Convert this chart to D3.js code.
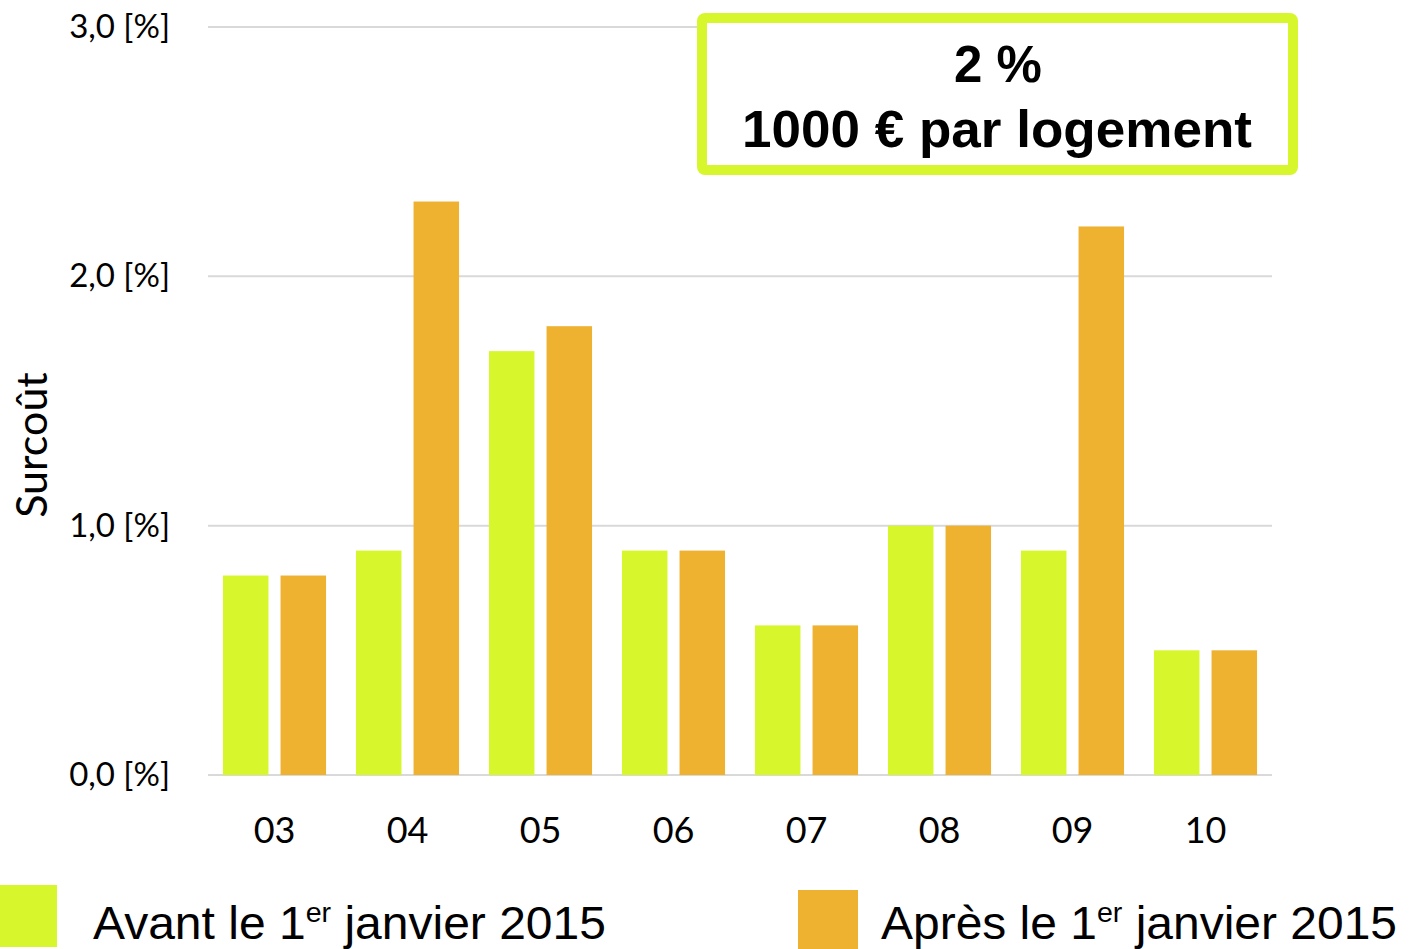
<!DOCTYPE html>
<html>
<head>
<meta charset="utf-8">
<script src="https://cdn.jsdelivr.net/npm/d3@7"></script>
<style>
  body { margin: 0; background: #fff; }
  svg { display: block; }
</style>
</head>
<body>
<div id="chart"></div>
<script>
// data
var categories = ["03", "04", "05", "06", "07", "08", "09", "10"];
var avant = [0.8, 0.9, 1.7, 0.9, 0.6, 1.0, 0.9, 0.5];
var apres = [0.8, 2.3, 1.8, 0.9, 0.6, 1.0, 2.2, 0.5];
var yTicks = [0, 1, 2, 3];
var seriesNames = ["Avant", "Après"];
var seriesColors = ["#d7f72c", "#eeb130"];

var W = 1414, H = 949;
var margin = { top: 27, right: 142, bottom: 174, left: 208 },
    width = W - margin.left - margin.right,
    height = H - margin.top - margin.bottom;

var svg = d3.select('#chart').append('svg')
    .attr('width', W)
    .attr('height', H);

var g = svg.append('g')
    .attr('transform', `translate(${margin.left},${margin.top})`);

var x = d3.scaleBand().domain(categories).range([0, width]).paddingInner(0.225).paddingOuter(0.1125);
var xs = d3.scaleBand().domain(seriesNames).range([0, x.bandwidth()]).paddingInner(0.21);
var y = d3.scaleLinear().domain([0, 3]).range([height, 0]);

// gridlines
g.append('g')
    .selectAll('line')
    .data(yTicks)
    .enter().append('line')
    .attr('x1', 0)
    .attr('x2', width)
    .attr('y1', d => y(d))
    .attr('y2', d => y(d))
    .attr('stroke', '#d9d9d9')
    .attr('stroke-width', 2);

// y axis labels
var yAxis = g.append('g')
    .call(d3.axisLeft(y).tickValues(yTicks).tickSize(0).tickPadding(38)
        .tickFormat(d => d3.format('.1f')(d).replace('.', ',') + ' [%]'));
yAxis.select('.domain').remove();
yAxis.selectAll('text')
    .style('font-family', 'Lato, sans-serif')
    .style('font-size', '33px')
    .attr('fill', '#000');

// x axis labels
var xAxis = g.append('g')
    .attr('transform', `translate(0,${height})`)
    .call(d3.axisBottom(x).tickSize(0).tickPadding(42));
xAxis.select('.domain').remove();
xAxis.selectAll('text')
    .style('font-family', 'Lato, sans-serif')
    .style('font-size', '36px')
    .attr('fill', '#000');

var rows = categories.map((c, i) => ({ cat: c, vals: [avant[i], apres[i]] }));

var groups = g.selectAll('.grp')
    .data(rows)
    .enter().append('g')
    .attr('class', 'grp')
    .attr('transform', d => `translate(${x(d.cat)},0)`);

groups.selectAll('rect')
    .data(d => d.vals.map((v, j) => ({ s: seriesNames[j], v: v, c: seriesColors[j] })))
    .enter().append('rect')
    .attr('x', d => xs(d.s))
    .attr('width', xs.bandwidth())
    .attr('y', d => y(d.v))
    .attr('height', d => height - y(d.v))
    .attr('fill', d => d.c);

// y title
svg.append('text')
    .attr('transform', 'translate(47,445) rotate(-90)')
    .attr('text-anchor', 'middle')
    .style('font-family', 'Lato, sans-serif')
    .style('font-size', '43px')
    .text('Surcoût');

// annotation box
svg.append('rect')
    .attr('x', 702)
    .attr('y', 18)
    .attr('width', 591)
    .attr('height', 152)
    .attr('rx', 3)
    .attr('fill', '#fff')
    .attr('stroke', seriesColors[0])
    .attr('stroke-width', 10);

svg.append('text')
    .attr('x', 998)
    .attr('y', 82)
    .attr('text-anchor', 'middle')
    .style('font-family', '"Liberation Sans", Arial, sans-serif')
    .style('font-weight', 'bold')
    .style('font-size', '51px')
    .text('2 %');

svg.append('text')
    .attr('x', 742)
    .attr('y', 147)
    .attr('textLength', 510)
    .attr('lengthAdjust', 'spacingAndGlyphs')
    .style('font-family', '"Liberation Sans", Arial, sans-serif')
    .style('font-weight', 'bold')
    .style('font-size', '52px')
    .text('1000 € par logement');

// legend
var legend = [
    { name: 'Avant le ', x: 0, y: 885, w: 57, h: 62, tx: 93, len: 513 },
    { name: 'Après le ', x: 798, y: 890, w: 60, h: 59, tx: 881, len: 516 }
];
legend.forEach((l, i) => {
    svg.append('rect')
        .attr('x', l.x).attr('y', l.y)
        .attr('width', l.w).attr('height', l.h)
        .attr('fill', seriesColors[i]);
    var t = svg.append('text')
        .attr('x', l.tx)
        .attr('y', 939)
        .attr('textLength', l.len)
        .attr('lengthAdjust', 'spacingAndGlyphs')
        .style('font-family', '"Liberation Sans", Arial, sans-serif')
        .style('font-size', '47px');
    t.append('tspan').text(l.name + '1');
    t.append('tspan').attr('dy', -17).style('font-size', '28px').text('er');
    t.append('tspan').attr('dy', 17).text(' janvier 2015');
});
</script>
</body>
</html>
